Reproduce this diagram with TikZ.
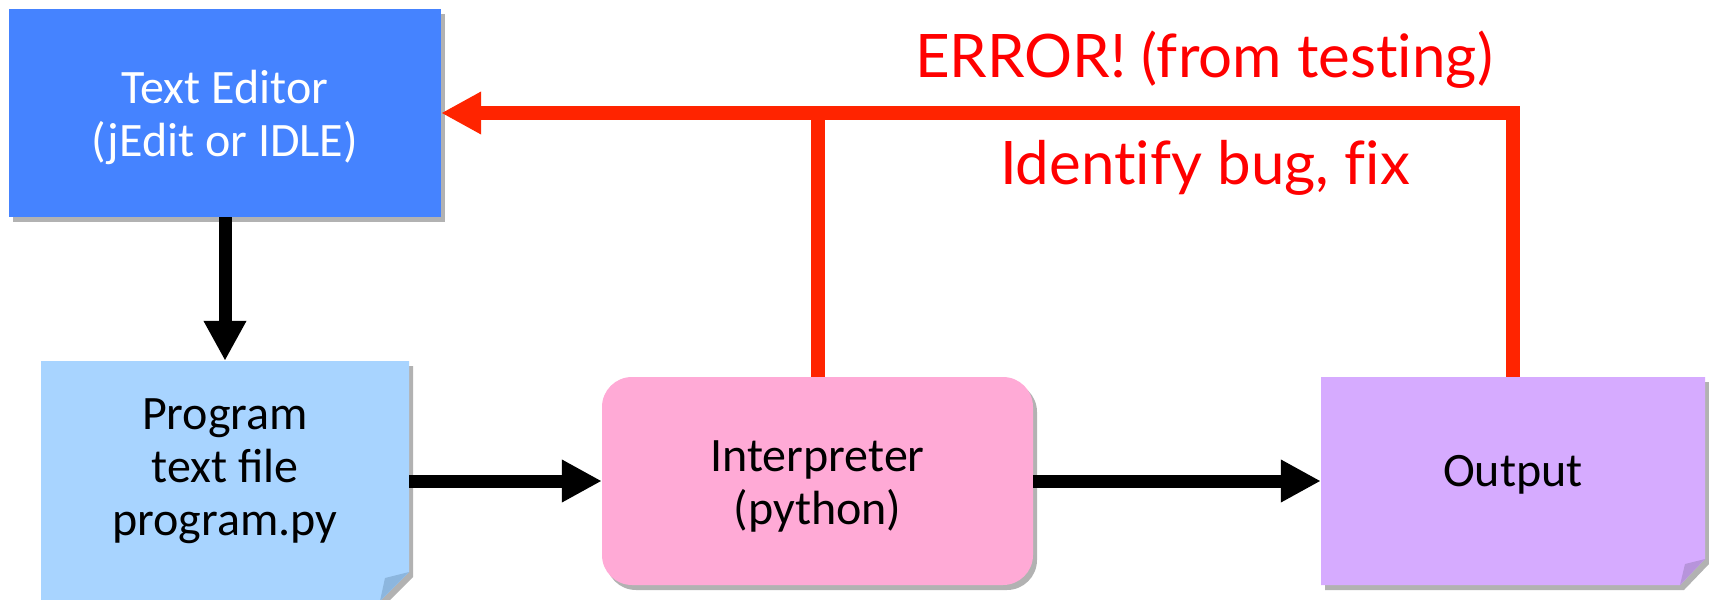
\documentclass[tikz,border=0pt]{standalone}
\usepackage{fontspec}
\setmainfont{Carlito}
\newfontfamily\redfont{Lato}[Ligatures={NoCommon}]
\usetikzlibrary{arrows.meta,shadows}
\definecolor{edblue}{HTML}{4583FF}
\definecolor{progblue}{HTML}{A8D4FF}
\definecolor{progfold}{HTML}{8CB6DE}
\definecolor{interppink}{HTML}{FFAAD6}
\definecolor{outpurple}{HTML}{D6ABFF}
\definecolor{outfold}{HTML}{B794DB}
\definecolor{errred}{HTML}{FF2400}
\begin{document}
\begin{tikzpicture}[x=1pt,y=-1pt,
  boxtext/.style={font=\fontsize{48}{53}\selectfont, inner sep=0pt},
  shad/.style={drop shadow={shadow xshift=4pt, shadow yshift=-5pt, fill=black, opacity=0.3}},
  blackarrow/.style={line width=13pt, -{Triangle[length=40pt,width=40pt]}},
  redline/.style={draw=errred, line width=14pt, line join=miter},
  redlabel/.style={text=red, font=\redfont\fontsize{60}{70}\selectfont, inner sep=0pt, anchor=base}]
\useasboundingbox (0,0) rectangle (1709,600);
% folded note shapes
\fill[progblue, shad] (41,361) -- (409,361) -- (409,572) -- (380,601) -- (41,601) -- cycle;
\fill[progfold] (409,572) -- (385,578) -- (380,601) -- cycle;
\fill[outpurple, shad] (1321,377) -- (1705,377) -- (1705,559) -- (1680,585) -- (1321,585) -- cycle;
\fill[outfold] (1705,559) -- (1685,564) -- (1680,585) -- cycle;
% nodes
\node[boxtext, fill=edblue, text=white, minimum width=432pt, minimum height=208pt, shad] (editor) at (225,113)
  {\begin{tabular}{@{}c@{}}\rule{0pt}{49pt}Text Editor\\(jEdit or IDLE)\end{tabular}};
\node[boxtext, minimum width=368pt, minimum height=240pt] (program) at (225,481)
  {\begin{tabular}{@{}c@{}}Program\\text file\\program.py\rule[-34pt]{0pt}{34pt}\end{tabular}};
\node[boxtext, fill=interppink, rounded corners=30pt, minimum width=431pt, minimum height=208pt, shad] (interp) at (817.5,481)
  {\begin{tabular}{@{}c@{}}\rule{0pt}{49pt}Interpreter\\(python)\end{tabular}};
\node[boxtext, minimum width=384pt, minimum height=208pt] (output) at (1513,481)
  {\begin{tabular}{@{}c@{}}Output\rule[-26pt]{0pt}{26pt}\end{tabular}};
% red feedback
\draw[redline] (interp.north) -- ([yshift=-7pt]interp.north |- editor.east);
\draw[redline, -{Triangle[length=40pt,width=40pt]}] (output.north) |- (editor.east);
\node[redlabel] (err) at (1204,77) {ERROR! (from testing)};
\node[redlabel] (fix) at (1205,184) {Identify bug, fix};
% black arrows
\draw[blackarrow] (editor.south) -- (program.north);
\draw[blackarrow] (program.east) -- (interp.west);
\draw[blackarrow] (interp.east) -- (output.west);
\end{tikzpicture}
\end{document}
